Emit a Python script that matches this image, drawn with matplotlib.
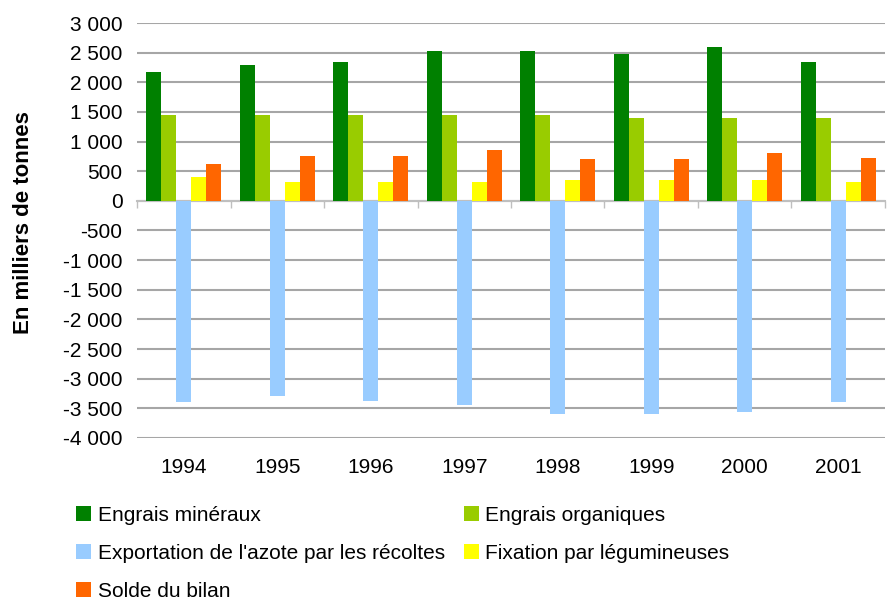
import numpy as np
import matplotlib.pyplot as plt
from matplotlib.ticker import FuncFormatter
from matplotlib.transforms import blended_transform_factory

plt.rcParams['font.family'] = ['Liberation Sans', 'DejaVu Sans']

# Data (milliers de tonnes)
annees = ['1994', '1995', '1996', '1997', '1998', '1999', '2000', '2001']
engrais_mineraux = [2180, 2300, 2350, 2520, 2520, 2480, 2590, 2350]
engrais_organiques = [1440, 1440, 1440, 1440, 1440, 1400, 1400, 1400]
exportation = [-3400, -3300, -3370, -3440, -3600, -3600, -3570, -3400]
fixation = [410, 325, 325, 325, 360, 360, 360, 325]
solde = [630, 765, 765, 865, 700, 700, 815, 730]

series = [
    ('Engrais minéraux', engrais_mineraux, '#008000'),
    ('Engrais organiques', engrais_organiques, '#99CC00'),
    ("Exportation de l'azote par les récoltes", exportation, '#99CCFF'),
    ('Fixation par légumineuses', fixation, '#FFFF00'),
    ('Solde du bilan', solde, '#FF6600'),
]

fig = plt.figure(figsize=(8.88, 5.99), dpi=100)
ax = fig.add_axes([0.1543, 0.2688, 0.8423, 0.6928])

x = np.arange(len(annees))
w = 0.16
handles = []
for i, (name, vals, col) in enumerate(series):
    b = ax.bar(x + (i - 2) * w, vals, w, color=col, label=name, zorder=3)
    handles.append(b)

ax.set_xlim(-0.5, len(annees) - 0.5)
ax.set_ylim(-4000, 3000)
ax.set_yticks(np.arange(-4000, 3001, 500))
ax.yaxis.set_major_formatter(FuncFormatter(lambda v, p: f'{int(v):,}'.replace(',', ' ')))
ax.grid(axis='y', color='#a6a6a6', linewidth=1.5, zorder=0)
ax.tick_params(axis='y', length=0, labelsize=15, pad=10.5)

for s in ['left', 'right', 'top']:
    ax.spines[s].set_visible(False)
ax.spines['bottom'].set_position(('data', 0))
ax.spines['bottom'].set_color('#bfbfbf')
ax.spines['bottom'].set_linewidth(1.5)
ax.set_xticks(np.arange(-0.5, len(annees), 1.0))
ax.tick_params(axis='x', direction='out', length=5, color='#bfbfbf', width=1, labelbottom=False)

trans = blended_transform_factory(ax.transData, ax.transAxes)
for xi, lab in zip(x, annees):
    ax.text(xi, -0.072, lab, transform=trans, ha='center', va='center', fontsize=15)

ax.set_ylabel('En milliers de tonnes', fontsize=16, fontweight='bold')
ax.yaxis.set_label_coords(-0.138, 0.52)

order = [0, 2, 4, 1, 3]
fig.legend([handles[i] for i in order], [series[i][0] for i in order],
           ncol=2, loc='upper left', bbox_to_anchor=(0.086, 0.155),
           frameon=False, fontsize=15, handlelength=0.72, handleheight=0.72,
           handletextpad=0.3, columnspacing=0.93, labelspacing=0.9,
           borderaxespad=0, borderpad=0)

fig.savefig('out.png', dpi=100)
